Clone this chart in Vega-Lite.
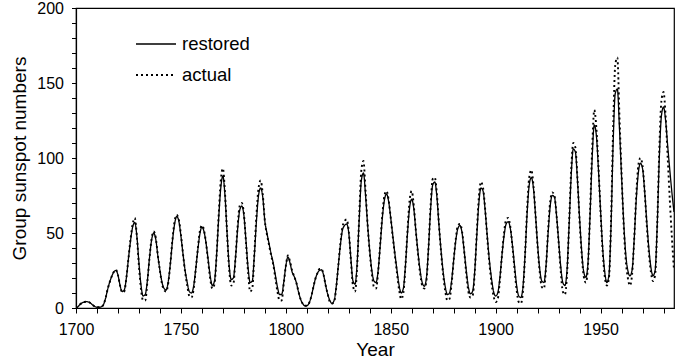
{
  "$schema": "https://vega.github.io/schema/vega-lite/v6.json",
  "autosize": "none",
  "width": 598,
  "height": 300,
  "padding": {"left": 76, "top": 8, "right": 15, "bottom": 52},
  "background": "white",
  "config": {
    "font": "Liberation Sans",
    "view": {"stroke": "black", "strokeWidth": 1.2},
    "axis": {
      "grid": false,
      "domainColor": "black",
      "domainWidth": 1.2,
      "tickColor": "black",
      "tickWidth": 1,
      "labelColor": "black",
      "titleColor": "black",
      "labelFont": "Liberation Sans",
      "titleFont": "Liberation Sans",
      "labelFontSize": 16,
      "titleFontSize": 19,
      "titleFontWeight": "normal"
    },
    "legend": {
      "labelFont": "Liberation Sans",
      "labelFontSize": 18.5,
      "labelColor": "black"
    }
  },
  "data": {
    "values": [
      {"year": 1700, "restored": 0, "actual": 0},
      {"year": 1701, "restored": 1, "actual": 1},
      {"year": 1702, "restored": 2.5, "actual": 2.5},
      {"year": 1703, "restored": 3.5, "actual": 3.5},
      {"year": 1704, "restored": 4, "actual": 4},
      {"year": 1705, "restored": 4.2, "actual": 4.2},
      {"year": 1706, "restored": 4, "actual": 4},
      {"year": 1707, "restored": 3.2, "actual": 3.2},
      {"year": 1708, "restored": 2, "actual": 2},
      {"year": 1709, "restored": 1, "actual": 1},
      {"year": 1710, "restored": 0.5, "actual": 0.5},
      {"year": 1711, "restored": 0.5, "actual": 0.5},
      {"year": 1712, "restored": 0.8, "actual": 0.8},
      {"year": 1713, "restored": 2, "actual": 2},
      {"year": 1714, "restored": 6, "actual": 6},
      {"year": 1715, "restored": 12, "actual": 12},
      {"year": 1716, "restored": 17, "actual": 17},
      {"year": 1717, "restored": 21, "actual": 21},
      {"year": 1718, "restored": 24, "actual": 24},
      {"year": 1719, "restored": 25, "actual": 25.5},
      {"year": 1720, "restored": 22, "actual": 22},
      {"year": 1721, "restored": 15, "actual": 15},
      {"year": 1722, "restored": 11, "actual": 10.5},
      {"year": 1723, "restored": 12, "actual": 11},
      {"year": 1724, "restored": 20, "actual": 20},
      {"year": 1725, "restored": 33, "actual": 33},
      {"year": 1726, "restored": 45, "actual": 46},
      {"year": 1727, "restored": 54, "actual": 56},
      {"year": 1728, "restored": 57, "actual": 60},
      {"year": 1729, "restored": 48, "actual": 48},
      {"year": 1730, "restored": 30, "actual": 28},
      {"year": 1731, "restored": 15, "actual": 12},
      {"year": 1732, "restored": 8, "actual": 5},
      {"year": 1733, "restored": 9, "actual": 5},
      {"year": 1734, "restored": 18, "actual": 17},
      {"year": 1735, "restored": 33, "actual": 33},
      {"year": 1736, "restored": 45, "actual": 46},
      {"year": 1737, "restored": 50, "actual": 51},
      {"year": 1738, "restored": 46, "actual": 47},
      {"year": 1739, "restored": 35, "actual": 35},
      {"year": 1740, "restored": 25, "actual": 25},
      {"year": 1741, "restored": 17, "actual": 16},
      {"year": 1742, "restored": 13, "actual": 12},
      {"year": 1743, "restored": 12, "actual": 11},
      {"year": 1744, "restored": 18, "actual": 17},
      {"year": 1745, "restored": 30, "actual": 30},
      {"year": 1746, "restored": 45, "actual": 46},
      {"year": 1747, "restored": 56, "actual": 58},
      {"year": 1748, "restored": 61, "actual": 62},
      {"year": 1749, "restored": 58, "actual": 59},
      {"year": 1750, "restored": 48, "actual": 49},
      {"year": 1751, "restored": 36, "actual": 36},
      {"year": 1752, "restored": 25, "actual": 24},
      {"year": 1753, "restored": 17, "actual": 15},
      {"year": 1754, "restored": 11, "actual": 8},
      {"year": 1755, "restored": 10, "actual": 7},
      {"year": 1756, "restored": 14, "actual": 12},
      {"year": 1757, "restored": 25, "actual": 25},
      {"year": 1758, "restored": 38, "actual": 39},
      {"year": 1759, "restored": 49, "actual": 51},
      {"year": 1760, "restored": 54, "actual": 55},
      {"year": 1761, "restored": 51, "actual": 52},
      {"year": 1762, "restored": 43, "actual": 43},
      {"year": 1763, "restored": 32, "actual": 31},
      {"year": 1764, "restored": 21, "actual": 19},
      {"year": 1765, "restored": 15, "actual": 13},
      {"year": 1766, "restored": 18, "actual": 16},
      {"year": 1767, "restored": 35, "actual": 35},
      {"year": 1768, "restored": 60, "actual": 62},
      {"year": 1769, "restored": 80, "actual": 85},
      {"year": 1770, "restored": 88, "actual": 93},
      {"year": 1771, "restored": 75, "actual": 77},
      {"year": 1772, "restored": 50, "actual": 50},
      {"year": 1773, "restored": 28, "actual": 26},
      {"year": 1774, "restored": 19, "actual": 15},
      {"year": 1775, "restored": 20, "actual": 16},
      {"year": 1776, "restored": 33, "actual": 33},
      {"year": 1777, "restored": 52, "actual": 54},
      {"year": 1778, "restored": 65, "actual": 68},
      {"year": 1779, "restored": 68, "actual": 70},
      {"year": 1780, "restored": 62, "actual": 63},
      {"year": 1781, "restored": 45, "actual": 44},
      {"year": 1782, "restored": 27, "actual": 24},
      {"year": 1783, "restored": 17, "actual": 11},
      {"year": 1784, "restored": 18, "actual": 13},
      {"year": 1785, "restored": 35, "actual": 36},
      {"year": 1786, "restored": 58, "actual": 62},
      {"year": 1787, "restored": 75, "actual": 80},
      {"year": 1788, "restored": 80, "actual": 85},
      {"year": 1789, "restored": 74, "actual": 76},
      {"year": 1790, "restored": 58, "actual": 58},
      {"year": 1791, "restored": 50, "actual": 49},
      {"year": 1792, "restored": 43, "actual": 42},
      {"year": 1793, "restored": 36, "actual": 35},
      {"year": 1794, "restored": 30, "actual": 29},
      {"year": 1795, "restored": 22, "actual": 20},
      {"year": 1796, "restored": 14, "actual": 11},
      {"year": 1797, "restored": 9, "actual": 5},
      {"year": 1798, "restored": 9, "actual": 5},
      {"year": 1799, "restored": 17, "actual": 16},
      {"year": 1800, "restored": 28, "actual": 28},
      {"year": 1801, "restored": 34, "actual": 35},
      {"year": 1802, "restored": 30, "actual": 31},
      {"year": 1803, "restored": 24, "actual": 25},
      {"year": 1804, "restored": 21, "actual": 21},
      {"year": 1805, "restored": 17, "actual": 17},
      {"year": 1806, "restored": 11, "actual": 11},
      {"year": 1807, "restored": 6, "actual": 6},
      {"year": 1808, "restored": 3, "actual": 3},
      {"year": 1809, "restored": 1.5, "actual": 1.5},
      {"year": 1810, "restored": 1.5, "actual": 1.5},
      {"year": 1811, "restored": 3, "actual": 3},
      {"year": 1812, "restored": 7, "actual": 7},
      {"year": 1813, "restored": 13, "actual": 13},
      {"year": 1814, "restored": 19, "actual": 19},
      {"year": 1815, "restored": 23, "actual": 23},
      {"year": 1816, "restored": 25, "actual": 26},
      {"year": 1817, "restored": 25.5, "actual": 26},
      {"year": 1818, "restored": 22, "actual": 22},
      {"year": 1819, "restored": 15, "actual": 15},
      {"year": 1820, "restored": 9, "actual": 9},
      {"year": 1821, "restored": 5, "actual": 4},
      {"year": 1822, "restored": 3, "actual": 3},
      {"year": 1823, "restored": 5, "actual": 4},
      {"year": 1824, "restored": 14, "actual": 13},
      {"year": 1825, "restored": 28, "actual": 28},
      {"year": 1826, "restored": 42, "actual": 43},
      {"year": 1827, "restored": 52, "actual": 54},
      {"year": 1828, "restored": 55, "actual": 58},
      {"year": 1829, "restored": 56, "actual": 59},
      {"year": 1830, "restored": 50, "actual": 51},
      {"year": 1831, "restored": 33, "actual": 32},
      {"year": 1832, "restored": 18, "actual": 15},
      {"year": 1833, "restored": 16, "actual": 11},
      {"year": 1834, "restored": 30, "actual": 28},
      {"year": 1835, "restored": 60, "actual": 62},
      {"year": 1836, "restored": 85, "actual": 92},
      {"year": 1837, "restored": 90, "actual": 98},
      {"year": 1838, "restored": 75, "actual": 78},
      {"year": 1839, "restored": 55, "actual": 55},
      {"year": 1840, "restored": 38, "actual": 37},
      {"year": 1841, "restored": 25, "actual": 23},
      {"year": 1842, "restored": 18, "actual": 14},
      {"year": 1843, "restored": 17, "actual": 13},
      {"year": 1844, "restored": 25, "actual": 24},
      {"year": 1845, "restored": 42, "actual": 43},
      {"year": 1846, "restored": 60, "actual": 62},
      {"year": 1847, "restored": 72, "actual": 75},
      {"year": 1848, "restored": 76, "actual": 78},
      {"year": 1849, "restored": 71, "actual": 72},
      {"year": 1850, "restored": 60, "actual": 60},
      {"year": 1851, "restored": 48, "actual": 47},
      {"year": 1852, "restored": 36, "actual": 35},
      {"year": 1853, "restored": 25, "actual": 23},
      {"year": 1854, "restored": 15, "actual": 12},
      {"year": 1855, "restored": 10, "actual": 6},
      {"year": 1856, "restored": 13, "actual": 10},
      {"year": 1857, "restored": 28, "actual": 28},
      {"year": 1858, "restored": 50, "actual": 52},
      {"year": 1859, "restored": 67, "actual": 72},
      {"year": 1860, "restored": 72.5, "actual": 78},
      {"year": 1861, "restored": 66, "actual": 68},
      {"year": 1862, "restored": 51, "actual": 51},
      {"year": 1863, "restored": 37, "actual": 36},
      {"year": 1864, "restored": 25, "actual": 23},
      {"year": 1865, "restored": 17, "actual": 15},
      {"year": 1866, "restored": 14.5, "actual": 13},
      {"year": 1867, "restored": 20, "actual": 18},
      {"year": 1868, "restored": 40, "actual": 40},
      {"year": 1869, "restored": 66, "actual": 68},
      {"year": 1870, "restored": 82, "actual": 86},
      {"year": 1871, "restored": 84, "actual": 87},
      {"year": 1872, "restored": 74, "actual": 76},
      {"year": 1873, "restored": 55, "actual": 55},
      {"year": 1874, "restored": 38, "actual": 37},
      {"year": 1875, "restored": 24, "actual": 22},
      {"year": 1876, "restored": 14, "actual": 11},
      {"year": 1877, "restored": 9, "actual": 5},
      {"year": 1878, "restored": 10, "actual": 6},
      {"year": 1879, "restored": 18, "actual": 16},
      {"year": 1880, "restored": 32, "actual": 32},
      {"year": 1881, "restored": 45, "actual": 46},
      {"year": 1882, "restored": 53, "actual": 55},
      {"year": 1883, "restored": 55, "actual": 56},
      {"year": 1884, "restored": 50, "actual": 51},
      {"year": 1885, "restored": 38, "actual": 38},
      {"year": 1886, "restored": 25, "actual": 23},
      {"year": 1887, "restored": 14, "actual": 11},
      {"year": 1888, "restored": 9.5, "actual": 7},
      {"year": 1889, "restored": 11, "actual": 8},
      {"year": 1890, "restored": 24, "actual": 23},
      {"year": 1891, "restored": 48, "actual": 50},
      {"year": 1892, "restored": 70, "actual": 74},
      {"year": 1893, "restored": 80, "actual": 84},
      {"year": 1894, "restored": 78, "actual": 80},
      {"year": 1895, "restored": 65, "actual": 66},
      {"year": 1896, "restored": 48, "actual": 47},
      {"year": 1897, "restored": 32, "actual": 30},
      {"year": 1898, "restored": 20, "actual": 17},
      {"year": 1899, "restored": 11, "actual": 8},
      {"year": 1900, "restored": 8, "actual": 4},
      {"year": 1901, "restored": 10, "actual": 6},
      {"year": 1902, "restored": 20, "actual": 18},
      {"year": 1903, "restored": 35, "actual": 35},
      {"year": 1904, "restored": 48, "actual": 50},
      {"year": 1905, "restored": 56, "actual": 59},
      {"year": 1906, "restored": 57.5, "actual": 60},
      {"year": 1907, "restored": 53, "actual": 54},
      {"year": 1908, "restored": 42, "actual": 41},
      {"year": 1909, "restored": 28, "actual": 26},
      {"year": 1910, "restored": 15, "actual": 12},
      {"year": 1911, "restored": 8, "actual": 4},
      {"year": 1912, "restored": 7, "actual": 3},
      {"year": 1913, "restored": 14, "actual": 11},
      {"year": 1914, "restored": 35, "actual": 35},
      {"year": 1915, "restored": 63, "actual": 66},
      {"year": 1916, "restored": 82, "actual": 87},
      {"year": 1917, "restored": 87, "actual": 92},
      {"year": 1918, "restored": 80, "actual": 82},
      {"year": 1919, "restored": 62, "actual": 62},
      {"year": 1920, "restored": 42, "actual": 41},
      {"year": 1921, "restored": 26, "actual": 24},
      {"year": 1922, "restored": 18, "actual": 14},
      {"year": 1923, "restored": 17, "actual": 13},
      {"year": 1924, "restored": 28, "actual": 27},
      {"year": 1925, "restored": 50, "actual": 52},
      {"year": 1926, "restored": 68, "actual": 71},
      {"year": 1927, "restored": 75, "actual": 77},
      {"year": 1928, "restored": 74, "actual": 75},
      {"year": 1929, "restored": 62, "actual": 62},
      {"year": 1930, "restored": 45, "actual": 44},
      {"year": 1931, "restored": 28, "actual": 25},
      {"year": 1932, "restored": 17, "actual": 11},
      {"year": 1933, "restored": 15, "actual": 9},
      {"year": 1934, "restored": 25, "actual": 22},
      {"year": 1935, "restored": 55, "actual": 56},
      {"year": 1936, "restored": 88, "actual": 92},
      {"year": 1937, "restored": 106, "actual": 110},
      {"year": 1938, "restored": 104, "actual": 107},
      {"year": 1939, "restored": 85, "actual": 86},
      {"year": 1940, "restored": 60, "actual": 58},
      {"year": 1941, "restored": 38, "actual": 36},
      {"year": 1942, "restored": 24, "actual": 21},
      {"year": 1943, "restored": 20.5, "actual": 17},
      {"year": 1944, "restored": 30, "actual": 28},
      {"year": 1945, "restored": 62, "actual": 64},
      {"year": 1946, "restored": 100, "actual": 106},
      {"year": 1947, "restored": 122, "actual": 132},
      {"year": 1948, "restored": 115, "actual": 120},
      {"year": 1949, "restored": 92, "actual": 94},
      {"year": 1950, "restored": 65, "actual": 64},
      {"year": 1951, "restored": 40, "actual": 38},
      {"year": 1952, "restored": 24, "actual": 21},
      {"year": 1953, "restored": 17, "actual": 15},
      {"year": 1954, "restored": 22, "actual": 20},
      {"year": 1955, "restored": 55, "actual": 58},
      {"year": 1956, "restored": 110, "actual": 120},
      {"year": 1957, "restored": 143, "actual": 162},
      {"year": 1958, "restored": 146, "actual": 167},
      {"year": 1959, "restored": 120, "actual": 128},
      {"year": 1960, "restored": 88, "actual": 90},
      {"year": 1961, "restored": 58, "actual": 56},
      {"year": 1962, "restored": 36, "actual": 32},
      {"year": 1963, "restored": 25, "actual": 20},
      {"year": 1964, "restored": 21.5, "actual": 15},
      {"year": 1965, "restored": 25, "actual": 22},
      {"year": 1966, "restored": 45, "actual": 45},
      {"year": 1967, "restored": 72, "actual": 75},
      {"year": 1968, "restored": 90, "actual": 95},
      {"year": 1969, "restored": 96.5, "actual": 100},
      {"year": 1970, "restored": 93, "actual": 95},
      {"year": 1971, "restored": 78, "actual": 78},
      {"year": 1972, "restored": 58, "actual": 56},
      {"year": 1973, "restored": 40, "actual": 37},
      {"year": 1974, "restored": 27, "actual": 24},
      {"year": 1975, "restored": 21.5, "actual": 18},
      {"year": 1976, "restored": 25, "actual": 22},
      {"year": 1977, "restored": 55, "actual": 55},
      {"year": 1978, "restored": 100, "actual": 106},
      {"year": 1979, "restored": 128, "actual": 138},
      {"year": 1980, "restored": 134, "actual": 144},
      {"year": 1981, "restored": 125, "actual": 128},
      {"year": 1982, "restored": 108, "actual": 100},
      {"year": 1983, "restored": 92, "actual": 72},
      {"year": 1984, "restored": 77, "actual": 47},
      {"year": 1985, "restored": 64, "actual": 25}
    ]
  },
  "transform": [
    {"fold": ["restored", "actual"], "as": ["series", "value"]}
  ],
  "mark": {"type": "line", "color": "black", "interpolate": "monotone", "clip": true},
  "encoding": {
    "x": {
      "field": "year",
      "type": "quantitative",
      "scale": {"domain": [1700, 1985], "nice": false, "zero": false},
      "axis": {
        "title": "Year",
        "values": [1700, 1710, 1720, 1730, 1740, 1750, 1760, 1770, 1780, 1790, 1800, 1810, 1820, 1830, 1840, 1850, 1860, 1870, 1880, 1890, 1900, 1910, 1920, 1930, 1940, 1950, 1960, 1970, 1980],
        "format": "d",
        "labelExpr": "datum.value % 50 === 0 ? datum.label : ''",
        "tickSize": 5,
        "labelPadding": 8,
        "titlePadding": 3,
        "labelFlush": false,
        "labelOverlap": false
      }
    },
    "y": {
      "field": "value",
      "type": "quantitative",
      "scale": {"domain": [0, 200], "nice": false},
      "axis": {
        "title": "Group sunspot numbers",
        "values": [0, 10, 20, 30, 40, 50, 60, 70, 80, 90, 100, 110, 120, 130, 140, 150, 160, 170, 180, 190, 200],
        "labelExpr": "datum.value % 50 === 0 ? datum.label : ''",
        "tickSize": 4.5,
        "labelPadding": 8,
        "titlePadding": 7,
        "labelFlush": false,
        "labelOverlap": false
      }
    },
    "strokeDash": {
      "field": "series",
      "type": "nominal",
      "scale": {"domain": ["restored", "actual"], "range": [[1, 0], [2, 3]]},
      "legend": {
        "title": null,
        "orient": "none",
        "legendX": 59,
        "legendY": 15,
        "symbolType": "stroke",
        "symbolSize": 1600,
        "symbolStrokeColor": "black",
        "symbolStrokeWidth": 1.4,
        "labelOffset": 5,
        "rowPadding": -14,
        "padding": 0
      }
    },
    "strokeWidth": {
      "field": "series",
      "type": "nominal",
      "scale": {"domain": ["restored", "actual"], "range": [1.3, 1.9]},
      "legend": null
    }
  }
}
